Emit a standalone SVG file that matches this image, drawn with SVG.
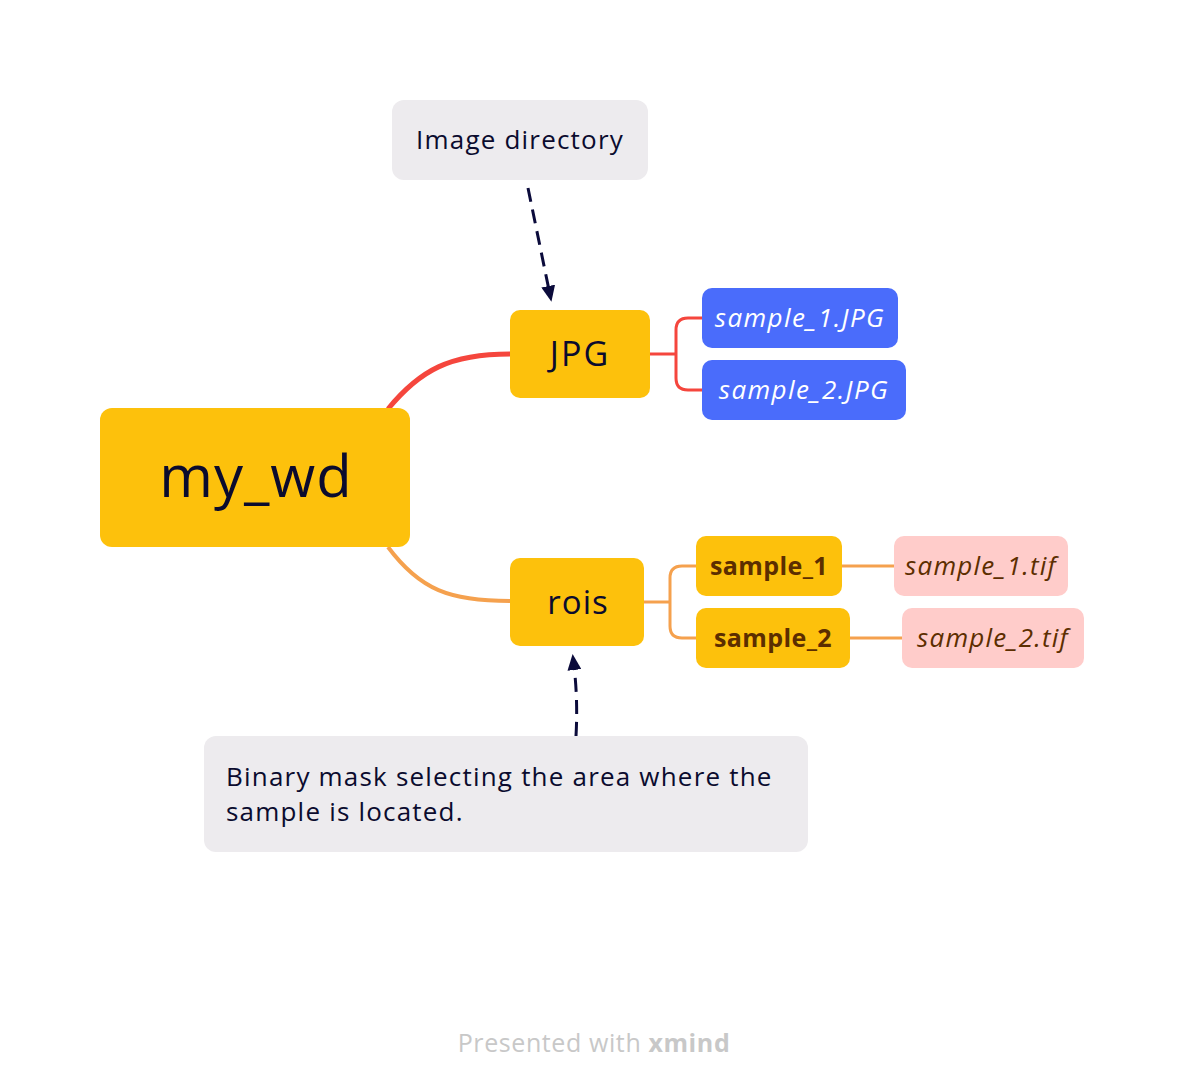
<svg xmlns="http://www.w3.org/2000/svg" width="1184" height="1092" viewBox="0 0 1184 1092">
<style>
.t{font-family:"Open Sans","Liberation Sans",sans-serif;}
.y{fill:#FDC10C;}
.b{fill:#4A6CFB;}
.p{fill:#FFCCCA;}
.g{fill:#EDEBEE;}
.dk{fill:#0B0B2E;}
.wi{fill:#FFFFFF;font-style:italic;letter-spacing:1.4px;}
.br{fill:#5C2E00;font-weight:bold;letter-spacing:0.4px;}
.bi{fill:#5C2E00;font-style:italic;letter-spacing:1.2px;}
.nt{letter-spacing:1.2px;}
.red{stroke:#F5463D;fill:none;}
.org{stroke:#F5A14E;fill:none;}
.dash{stroke:#0B0B3B;fill:none;stroke-width:3;stroke-dasharray:14 8;}
</style>
<defs>
<marker id="ah" markerWidth="16" markerHeight="14" refX="4" refY="7" orient="auto" markerUnits="userSpaceOnUse" viewBox="0 0 16 14">
<path d="M0,0 L16,7 L0,14 Z" fill="#0B0B3B"/>
</marker>
</defs>
<rect width="1184" height="1092" fill="#FFFFFF"/>
<g id="connectors">
<path class="red" stroke-width="5" d="M388,409 C420,370 450,354 510,354"/>
<path class="org" stroke-width="4" d="M388,547 C420,590 450,601 510,601"/>
<path class="red" stroke-width="3" d="M650,354 H676 M702,318 H688 Q676,318 676,330 V378 Q676,390 688,390 H702"/>
<path class="org" stroke-width="3" d="M644,602 H670 M696,566 H682 Q670,566 670,578 V626 Q670,638 682,638 H696"/>
<path class="org" stroke-width="3" d="M842,566 H894 M850,638 H902"/>
<path class="dash" d="M528,188 L549,290" marker-end="url(#ah)"/>
<path class="dash" d="M576,736 Q578,700 574,666" marker-end="url(#ah)"/>
</g>
<g id="node-root"><rect class="y" x="100" y="408" width="310" height="139" rx="12"/><text class="t dk" x="256" y="497" font-size="58" letter-spacing="1" text-anchor="middle">my_wd</text></g>
<g id="node-jpg"><rect class="y" x="510" y="310" width="140" height="88" rx="10"/><text class="t dk" x="580" y="366" font-size="34" letter-spacing="2" text-anchor="middle">JPG</text></g>
<g id="node-rois"><rect class="y" x="510" y="558" width="134" height="88" rx="10"/><text class="t dk" x="578" y="614" font-size="33" letter-spacing="1" text-anchor="middle">rois</text></g>
<g id="node-s1jpg"><rect class="b" x="702" y="288" width="196" height="60" rx="10"/><text class="t wi" x="800" y="327" font-size="26" text-anchor="middle">sample_1.JPG</text></g>
<g id="node-s2jpg"><rect class="b" x="702" y="360" width="204" height="60" rx="10"/><text class="t wi" x="804" y="399" font-size="26" text-anchor="middle">sample_2.JPG</text></g>
<g id="node-s1"><rect class="y" x="696" y="536" width="146" height="60" rx="10"/><text class="t br" x="769" y="575" font-size="25" text-anchor="middle">sample_1</text></g>
<g id="node-s2"><rect class="y" x="696" y="608" width="154" height="60" rx="10"/><text class="t br" x="773" y="647" font-size="25" text-anchor="middle">sample_2</text></g>
<g id="node-s1tif"><rect class="p" x="894" y="536" width="174" height="60" rx="10"/><text class="t bi" x="981" y="575" font-size="26" text-anchor="middle">sample_1.tif</text></g>
<g id="node-s2tif"><rect class="p" x="902" y="608" width="182" height="60" rx="10"/><text class="t bi" x="993" y="647" font-size="26" text-anchor="middle">sample_2.tif</text></g>
<g id="note-image"><rect class="g" x="392" y="100" width="256" height="80" rx="12"/><text class="t dk nt" x="520" y="149" font-size="26" text-anchor="middle">Image directory</text></g>
<g id="note-mask"><rect class="g" x="204" y="736" width="604" height="116" rx="12"/><text class="t dk nt" x="226" y="786" font-size="26">Binary mask selecting the area where the</text><text class="t dk nt" x="226" y="821" font-size="26">sample is located.</text></g>
<g id="footer"><text class="t" x="594" y="1052" font-size="25" letter-spacing="0.6" fill="#C8C8C8" text-anchor="middle">Presented with <tspan font-weight="bold">xmind</tspan></text></g>
</svg>
